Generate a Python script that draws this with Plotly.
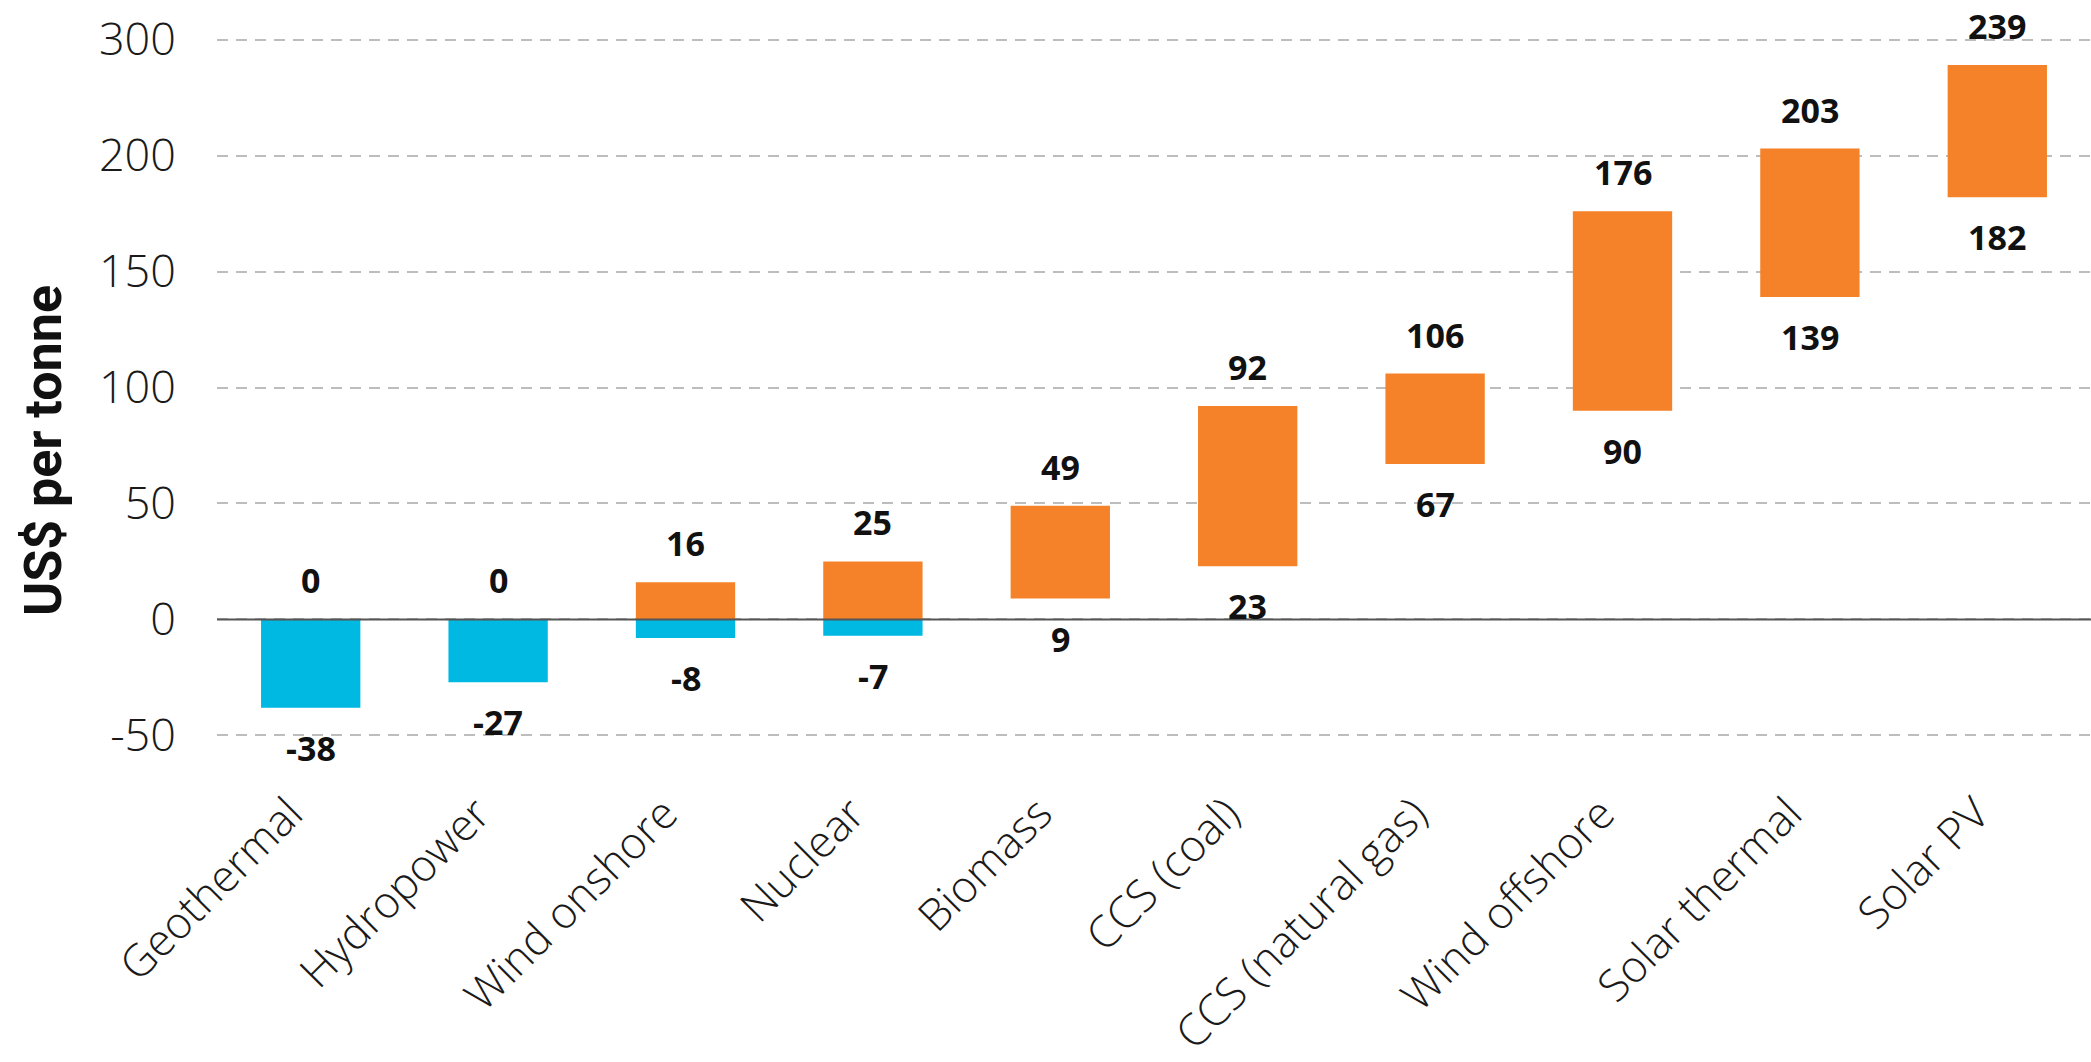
import plotly.graph_objects as go

categories = ["Geothermal", "Hydropower", "Wind onshore", "Nuclear", "Biomass",
              "CCS (coal)", "CCS (natural gas)", "Wind offshore", "Solar thermal", "Solar PV"]
high_values = [0, 0, 16, 25, 49, 92, 106, 176, 203, 239]
low_values = [-38, -27, -8, -7, 9, 23, 67, 90, 139, 182]

tick_vals = [-50, 0, 50, 100, 150, 200, 250]
tick_text = ["-50", "0", "50", "100", "150", "200", "300"]

ORANGE = "#F58228"
BLUE = "#00B9E2"

W, H = 2091, 1062
M_L, M_R, M_T, M_B = 217, 0, 15, 296
Y_MIN, Y_MAX = -63.15, 260.56

# positive (orange) parts and negative (blue) parts of each range
pos_base = [max(lo, 0) for lo in low_values]
pos_len = [max(hi - b, 0) for hi, b in zip(high_values, pos_base)]
neg_base = [min(lo, 0) for lo in low_values]
neg_len = [max(min(hi, 0) - b, 0) for hi, b in zip(high_values, neg_base)]

fig = go.Figure()
fig.add_trace(go.Bar(x=categories, y=neg_len, base=neg_base, marker_color=BLUE,
                     marker_line_width=0, width=0.53, hoverinfo="skip"))
fig.add_trace(go.Bar(x=categories, y=pos_len, base=pos_base, marker_color=ORANGE,
                     marker_line_width=0, width=0.53, hoverinfo="skip"))

label_font = dict(family="Open Sans, Roboto, sans-serif", size=34, color="#111111", weight=700)
annotations = []
for cat, hi, lo in zip(categories, high_values, low_values):
    annotations.append(dict(x=cat, y=hi, text=str(hi), showarrow=False, yshift=39,
                            xanchor="center", yanchor="middle", font=label_font))
    annotations.append(dict(x=cat, y=lo, text=str(lo), showarrow=False, yshift=-40,
                            xanchor="center", yanchor="middle", font=label_font))

plot_w = W - M_L - M_R
plot_h = H - M_T - M_B
annotations.append(dict(
    text="<b>US$ per tonne</b>", textangle=-90, showarrow=False,
    xref="paper", yref="paper",
    x=(43 - M_L) / plot_w, y=(H - M_B - 451) / plot_h,
    xanchor="center", yanchor="middle",
    font=dict(family="Roboto, Liberation Sans, sans-serif", size=52, color="#111111")))

fig.update_layout(
    width=W, height=H,
    margin=dict(l=M_L, r=M_R, t=M_T, b=M_B, pad=0, autoexpand=False),
    paper_bgcolor="white", plot_bgcolor="white",
    barmode="overlay", showlegend=False,
    annotations=annotations,
    shapes=[dict(type="line", xref="paper", x0=0, x1=1, yref="y", y0=0, y1=0,
                 line=dict(color="#555555", width=2), layer="above")],
    xaxis=dict(showgrid=False, zeroline=False, showline=False, tickangle=-45,
               automargin=False,
               ticks="", ticklabelshift=-21, ticklabelstandoff=12,
               tickfont=dict(family="Open Sans, Lato, sans-serif", size=44,
                             color="#1a1a1a", weight=300)),
    yaxis=dict(range=[Y_MIN, Y_MAX], tickvals=tick_vals, ticktext=tick_text,
               automargin=False,
               showgrid=True, gridcolor="#BDBDBD", gridwidth=2, griddash="11px,8px",
               zeroline=False, showline=False, ticklabeloverflow="allow",
               ticks="outside", ticklen=31, tickcolor="rgba(0,0,0,0)",
               tickfont=dict(family="Open Sans, Lato, sans-serif", size=45,
                             color="#1a1a1a", weight=300)),
)

fig.write_html("out.html", config={"displayModeBar": False},
               post_script="document.body.style.margin='0';")
